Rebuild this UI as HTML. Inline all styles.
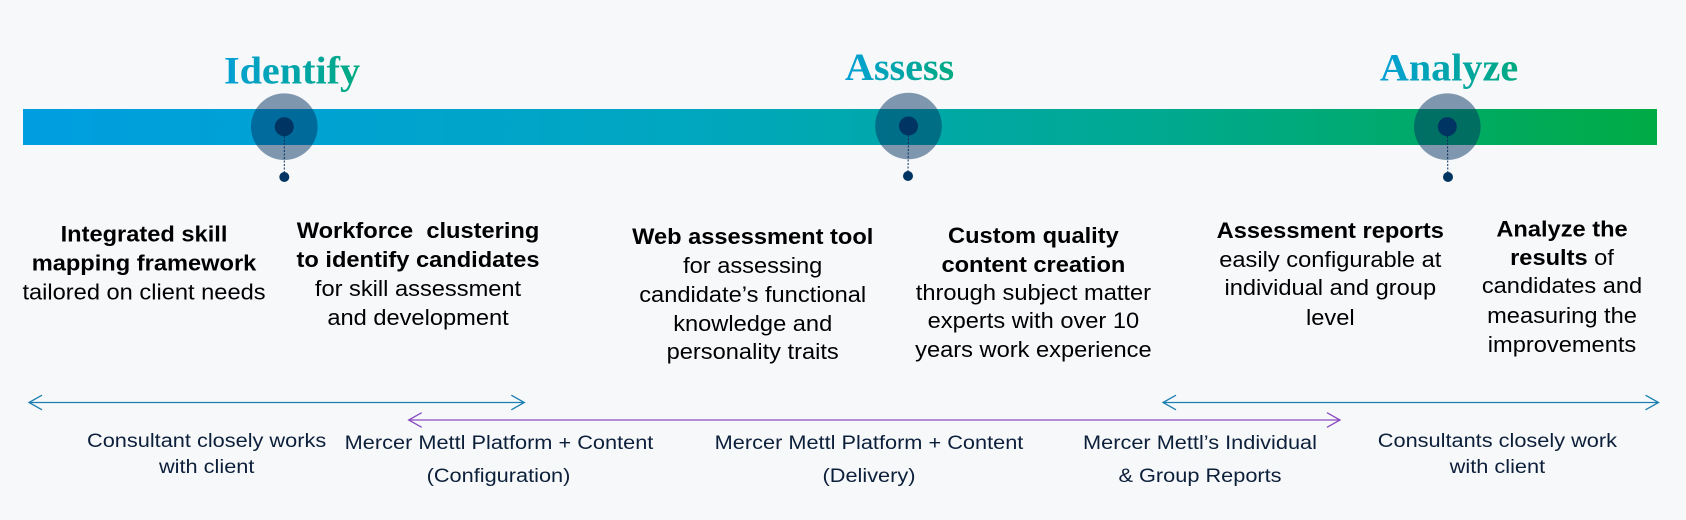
<!DOCTYPE html>
<html>
<head>
<meta charset="utf-8">
<style>
  html, body { margin: 0; padding: 0; background: #f7f8fa; }
  body { width: 1686px; height: 520px; overflow: hidden; }
  svg { display: block; }
  .b { font-family: "Liberation Sans", Arial, sans-serif; font-size: 22px; fill: #000; }
  .bb { font-weight: bold; }
  .s { font-family: "Liberation Sans", Arial, sans-serif; font-size: 19.6px; fill: #0c1f3a; }
  .t { font-family: "Liberation Serif", "DejaVu Serif", serif; font-weight: bold; font-size: 39px; }
</style>
</head>
<body>
<svg width="1686" height="520" viewBox="0 0 1686 520" xmlns="http://www.w3.org/2000/svg">
  <defs>
    <linearGradient id="bar" x1="0" y1="0" x2="1" y2="0">
      <stop offset="0" stop-color="#009ee0"/>
      <stop offset="0.4" stop-color="#00a7c0"/>
      <stop offset="0.7" stop-color="#00a98f"/>
      <stop offset="1" stop-color="#00ab45"/>
    </linearGradient>
    <linearGradient id="tg" x1="0" y1="0" x2="1" y2="0">
      <stop offset="0" stop-color="#05a0d6"/>
      <stop offset="1" stop-color="#00aa80"/>
    </linearGradient>
  </defs>

  <rect x="0" y="0" width="1686" height="520" fill="#f7f8fa"/>

  <!-- main bar -->
  <rect x="23" y="109" width="1634" height="36" fill="url(#bar)"/>

  <!-- titles -->
  <text class="t" fill="url(#tg)" text-anchor="middle" transform="translate(292,83.3) scale(1.03,1)">Identify</text>
  <text class="t" fill="url(#tg)" text-anchor="middle" transform="translate(899.5,80) scale(1.03,1)">Assess</text>
  <text class="t" fill="url(#tg)" text-anchor="middle" transform="translate(1449,80.7) scale(1.03,1)">Analyze</text>

  <!-- milestone markers -->
  <g>
    <circle cx="284.3" cy="126.7" r="33.3" fill="rgba(0,50,98,0.49)"/>
    <line x1="284.3" y1="136" x2="284.3" y2="173" stroke="#0a2f5a" stroke-width="1" stroke-dasharray="2,1.5"/>
    <circle cx="284.3" cy="126.7" r="9.5" fill="#003462"/>
    <circle cx="284.3" cy="177" r="5" fill="#003462"/>
  </g>
  <g>
    <circle cx="908.5" cy="126" r="33.3" fill="rgba(0,50,98,0.49)"/>
    <line x1="908.5" y1="135" x2="908" y2="172" stroke="#0a2f5a" stroke-width="1" stroke-dasharray="2,1.5"/>
    <circle cx="908.5" cy="126" r="9.5" fill="#003462"/>
    <circle cx="908" cy="176" r="5" fill="#003462"/>
  </g>
  <g>
    <circle cx="1447.3" cy="126.7" r="33.3" fill="rgba(0,50,98,0.49)"/>
    <line x1="1447.5" y1="136" x2="1447.8" y2="173" stroke="#0a2f5a" stroke-width="1" stroke-dasharray="2,1.5"/>
    <circle cx="1447.3" cy="126.7" r="9.5" fill="#003462"/>
    <circle cx="1448" cy="177" r="5" fill="#003462"/>
  </g>

  <!-- description blocks -->
  <g text-anchor="middle">
    <text class="b bb" transform="translate(144,241.7) scale(1.075,1)">Integrated skill</text>
    <text class="b bb" transform="translate(144,270.5) scale(1.075,1)">mapping framework</text>
    <text class="b" transform="translate(144,299.3) scale(1.075,1)">tailored on client needs</text>

    <text class="b bb" transform="translate(418,238) scale(1.075,1)" xml:space="preserve">Workforce  clustering</text>
    <text class="b bb" transform="translate(418,267) scale(1.075,1)">to identify candidates</text>
    <text class="b" transform="translate(418,296) scale(1.075,1)">for skill assessment</text>
    <text class="b" transform="translate(418,325) scale(1.075,1)">and development</text>

    <text class="b bb" transform="translate(752.7,244) scale(1.075,1)">Web assessment tool</text>
    <text class="b" transform="translate(752.7,273) scale(1.075,1)">for assessing</text>
    <text class="b" transform="translate(752.7,302) scale(1.075,1)">candidate’s functional</text>
    <text class="b" transform="translate(752.7,331) scale(1.075,1)">knowledge and</text>
    <text class="b" transform="translate(752.7,359) scale(1.075,1)">personality traits</text>

    <text class="b bb" transform="translate(1033.4,243) scale(1.075,1)">Custom quality</text>
    <text class="b bb" transform="translate(1033.4,272) scale(1.075,1)">content creation</text>
    <text class="b" transform="translate(1033.4,300) scale(1.075,1)">through subject matter</text>
    <text class="b" transform="translate(1033.4,328) scale(1.075,1)">experts with over 10</text>
    <text class="b" transform="translate(1033.4,357) scale(1.075,1)">years work experience</text>

    <text class="b bb" transform="translate(1330.3,238) scale(1.075,1)">Assessment reports</text>
    <text class="b" transform="translate(1330.3,267) scale(1.075,1)">easily configurable at</text>
    <text class="b" transform="translate(1330.3,295) scale(1.075,1)">individual and group</text>
    <text class="b" transform="translate(1330.3,325) scale(1.075,1)">level</text>

    <text class="b bb" transform="translate(1562,236.5) scale(1.075,1)">Analyze the</text>
    <text class="b" transform="translate(1562,265) scale(1.075,1)"><tspan font-weight="bold">results</tspan> of</text>
    <text class="b" transform="translate(1562,293) scale(1.075,1)">candidates and</text>
    <text class="b" transform="translate(1562,323) scale(1.075,1)">measuring the</text>
    <text class="b" transform="translate(1562,352) scale(1.075,1)">improvements</text>
  </g>

  <!-- arrows -->
  <g fill="none" stroke-width="1.3">
    <g stroke="#1a7fb0">
      <line x1="29" y1="402.5" x2="524.3" y2="402.5"/>
      <path d="M42 395.2 L29 402.5 L42 409.8"/>
      <path d="M511.3 395.2 L524.3 402.5 L511.3 409.8"/>
    </g>
    <g stroke="#8a4bbf">
      <line x1="408.7" y1="420" x2="1340" y2="420"/>
      <path d="M421.7 412.7 L408.7 420 L421.7 427.3"/>
      <path d="M1327 412.7 L1340 420 L1327 427.3"/>
    </g>
    <g stroke="#1a7fb0">
      <line x1="1163" y1="402.5" x2="1658.5" y2="402.5"/>
      <path d="M1176 395.2 L1163 402.5 L1176 409.8"/>
      <path d="M1645.5 395.2 L1658.5 402.5 L1645.5 409.8"/>
    </g>
  </g>

  <!-- bottom labels -->
  <g text-anchor="middle">
    <text class="s" transform="translate(206.6,447) scale(1.11,1)">Consultant closely works</text>
    <text class="s" transform="translate(206.7,473) scale(1.11,1)">with client</text>

    <text class="s" transform="translate(499,449) scale(1.11,1)">Mercer Mettl Platform + Content</text>
    <text class="s" transform="translate(498.5,482) scale(1.11,1)">(Configuration)</text>

    <text class="s" transform="translate(869,449) scale(1.11,1)">Mercer Mettl Platform + Content</text>
    <text class="s" transform="translate(869,482) scale(1.11,1)">(Delivery)</text>

    <text class="s" transform="translate(1200,449) scale(1.11,1)">Mercer Mettl’s Individual</text>
    <text class="s" transform="translate(1200,482) scale(1.11,1)">&amp; Group Reports</text>

    <text class="s" transform="translate(1497.4,447) scale(1.11,1)">Consultants closely work</text>
    <text class="s" transform="translate(1497.4,473) scale(1.11,1)">with client</text>
  </g>
</svg>
</body>
</html>
